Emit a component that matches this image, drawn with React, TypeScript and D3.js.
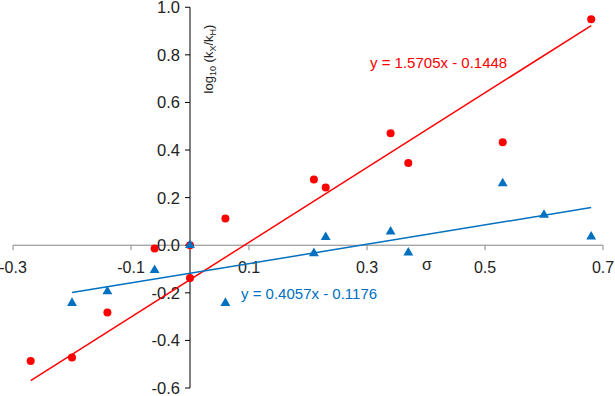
import * as d3 from "d3";

const W = 615;
const H = 396;

// red series (circles)
const redX = [-0.27, -0.2, -0.14, -0.06, 0, 0, 0.06, 0.21, 0.23, 0.34, 0.37, 0.53, 0.68];
const redY = [-0.487, -0.472, -0.283, -0.014, 0, -0.138, 0.112, 0.276, 0.243, 0.47, 0.345, 0.433, 0.95];
// blue series (triangles)
const blueX = [-0.2, -0.14, -0.06, 0, 0.06, 0.21, 0.23, 0.34, 0.37, 0.53, 0.6, 0.68];
const blueY = [-0.243, -0.194, -0.105, 0, -0.243, -0.034, 0.034, 0.057, -0.031, 0.26, 0.127, 0.036];

const xTicks = [-0.3, -0.1, 0.1, 0.3, 0.5, 0.7];
const yTicks = [-0.6, -0.4, -0.2, 0.0, 0.2, 0.4, 0.6, 0.8, 1.0];

const redFit = { m: 1.5705, b: -0.1448, label: "y = 1.5705x - 0.1448" };
const blueFit = { m: 0.4057, b: -0.1176, label: "y = 0.4057x - 0.1176" };

const RED = "#ff0000";
const BLUE = "#0070c0";

export default function App() {
  const x = d3.scaleLinear().domain([-0.3, 0.7]).range([13, 603]);
  const y = d3.scaleLinear().domain([-0.6, 1.0]).range([388, 7.25]);
  const tri = d3.symbol().type(d3.symbolTriangle).size(42)();

  const fitLine = (f: { m: number; b: number }, xs: number[]) => {
    const x0 = d3.min(xs) as number;
    const x1 = d3.max(xs) as number;
    return d3.line()([
      [x(x0), y(f.m * x0 + f.b)],
      [x(x1), y(f.m * x1 + f.b)],
    ]) as string;
  };

  return (
    <svg
      width={W}
      height={H}
      style={{ position: "absolute", left: 0, top: 0, background: "#fff" }}
      fontFamily="'Liberation Sans', Arial, sans-serif"
    >
      {/* x axis */}
      <line x1={x(-0.3)} x2={x(0.7)} y1={y(0)} y2={y(0)} stroke="#868686" />
      {xTicks.map((t) => (
        <g key={t}>
          <line x1={x(t)} x2={x(t)} y1={y(0)} y2={y(0) + 5} stroke="#868686" />
          <text x={x(t)} y={y(0) + 28} textAnchor="middle" fontSize={16} fill="#222">
            {t.toFixed(1)}
          </text>
        </g>
      ))}
      <text x={427} y={270} textAnchor="middle" fontSize={16} fill="#222">σ</text>

      {/* y axis */}
      <line x1={x(0)} x2={x(0)} y1={y(1.0)} y2={y(-0.6)} stroke="#000" />
      {yTicks.map((t) => (
        <g key={t}>
          <line x1={x(0) - 5} x2={x(0)} y1={y(t)} y2={y(t)} stroke="#000" />
          <text x={x(0) - 10} y={y(t) + 6} textAnchor="end" fontSize={16.5} fill="#222">
            {t.toFixed(1)}
          </text>
        </g>
      ))}
      <text
        transform={`translate(213,59) rotate(-90)`}
        textAnchor="middle"
        fontSize={13}
        fill="#222"
      >
        log<tspan fontSize={9} dy={3}>10</tspan>
        <tspan dy={-3}> (k</tspan>
        <tspan fontSize={9} dy={3}>X</tspan>
        <tspan dy={-3}>/k</tspan>
        <tspan fontSize={9} dy={3}>H</tspan>
        <tspan dy={-3}>)</tspan>
      </text>

      {/* trend lines */}
      <path d={fitLine(redFit, redX)} stroke={RED} strokeWidth={1.5} fill="none" />
      <path d={fitLine(blueFit, blueX)} stroke={BLUE} strokeWidth={1.5} fill="none" />

      {/* points */}
      {redX.map((v, i) => (
        <circle key={i} cx={x(v)} cy={y(redY[i])} r={4} fill={RED} />
      ))}
      {blueX.map((v, i) => (
        <path key={i} d={tri} transform={`translate(${x(v)},${y(blueY[i])})`} fill={BLUE} />
      ))}

      {/* equations */}
      <text x={370} y={68} fontSize={15} fill={RED}>{redFit.label}</text>
      <text x={241} y={299} fontSize={15} fill={BLUE}>{blueFit.label}</text>
    </svg>
  );
}
